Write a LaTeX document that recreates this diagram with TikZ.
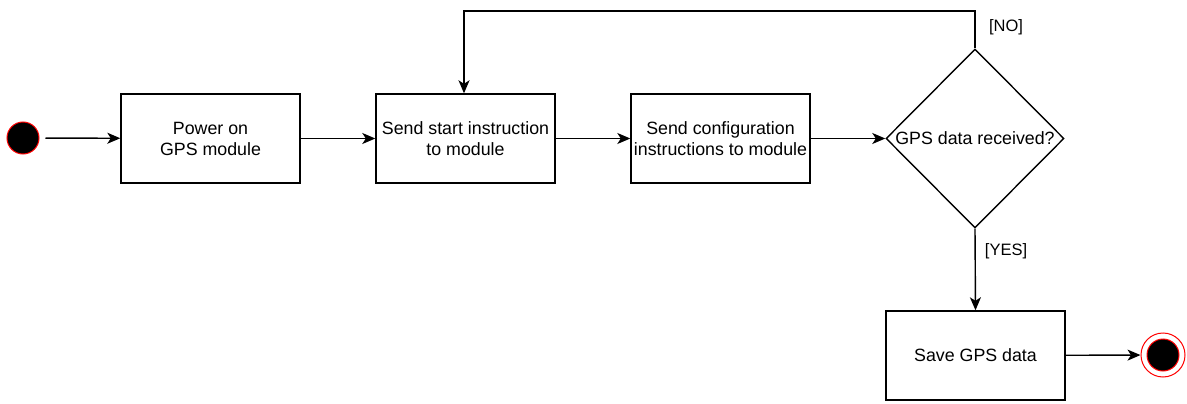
\documentclass[tikz,border=0pt]{standalone}
\usepackage{fontspec}
\setmainfont{Liberation Sans}
\usetikzlibrary{arrows.meta,shapes.geometric}
\begin{document}
\begin{tikzpicture}[x=1pt,y=-1pt,
  every node/.style={font=\fontsize{17.8}{21}\selectfont},
  box/.style={draw,line width=1.4pt,minimum width=179pt,minimum height=89pt,align=center,inner sep=0pt},
  dec/.style={draw,line width=1.4pt,diamond,minimum width=178pt,minimum height=179pt,inner sep=0pt,align=center},
  conn/.style={line width=1.4pt,-{Stealth[length=13pt,width=11pt,inset=3.5pt]}},
  lbl/.style={font=\fontsize{16.5}{18}\selectfont}]
\useasboundingbox (0,0) rectangle (1187,404);
\node[circle,draw=red,fill=black,line width=1pt,minimum size=32pt,inner sep=0pt] (start) at (23,138) {};
\node[box] (b1) at (210.5,138.5) {Power on\\GPS module};
\node[box] (b2) at (465.5,138.5) {Send start instruction\\to module};
\node[box] (b3) at (720.5,138.5) {Send configuration\\instructions to module};
\node[dec] (d) at (975,138.5) {GPS data received?};
\node[box] (b4) at (975.5,355.5) {Save GPS data};
\node[circle,draw=red,line width=1pt,minimum size=44pt,inner sep=0pt] (endo) at (1163,355) {};
\node[circle,draw=red,fill=black,line width=1pt,minimum size=32pt,inner sep=0pt] (endi) at (1163,355) {};
\coordinate (c1) at (975,11);
\coordinate (c2) at (464,11);
\draw[conn,shorten <=6pt] (start) -- (b1);
\draw[conn] (b1) -- (b2);
\draw[conn] (b2) -- (b3);
\draw[conn] (b3) -- (d);
\draw[conn] (d.north) -- (c1) -- (c2) -- (c2 |- b2.north);
\draw[conn] (d.south) -- (b4.north);
\draw[conn] (b4) -- (endo);
\node[lbl] (no) at (1006,27) {[NO]};
\node[lbl] (yes) at (1006,251) {[YES]};
\end{tikzpicture}
\end{document}
